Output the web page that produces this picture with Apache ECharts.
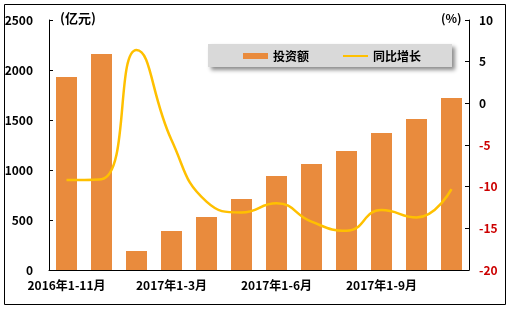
<!DOCTYPE html>
<html>
<head>
<meta charset="utf-8">
<script src="https://cdn.jsdelivr.net/npm/echarts@6/dist/echarts.min.js"></script>
<style>
html,body{margin:0;padding:0;background:#fff;}
#c{width:514px;height:313px;}
</style>
</head>
<body>
<div id="c"></div>
<script>
var categories = ['2016年1-11月','2016年1-12月','2017年1-2月','2017年1-3月','2017年1-4月','2017年1-5月','2017年1-6月','2017年1-7月','2017年1-8月','2017年1-9月','2017年1-10月','2017年1-11月'];
var investment = [1930, 2160, 190, 390, 530, 710, 940, 1060, 1190, 1370, 1510, 1720];
var growth = [-9.2, -9.1, 6.4, -4.4, -11.8, -13.1, -12.0, -14.2, -15.3, -12.8, -13.7, -10.3];
var seriesNames = ['投资额', '同比增长'];
var leftUnit = '(亿元)';
var rightUnit = '(%)';

var FONT = '"Noto Sans CJK SC", "DejaVu Sans", sans-serif';
var chart = echarts.init(document.getElementById('c'));
chart.setOption({
  animation: false,
  textStyle: {fontFamily: FONT},
  grid: {left: 49, right: 45, top: 20, bottom: 43},
  graphic: [
    {type: 'rect', shape: {x: 4.5, y: 4.5, width: 501, height: 300}, style: {fill: 'none', stroke: '#000', lineWidth: 1}, z: 0},
    {type: 'text', left: 60, top: 12, style: {text: leftUnit, font: 'bold 13px ' + FONT, fill: '#000'}},
    {type: 'text', left: 441, top: 12, style: {text: rightUnit, font: 'bold 12px ' + FONT, fill: '#000'}}
  ],
  legend: {
    left: 208, top: 44,
    padding: [6, 31, 5, 35],
    itemGap: 34,
    itemWidth: 25,
    itemHeight: 6,
    backgroundColor: '#d9d9d9',
    shadowColor: 'rgba(0,0,0,0.45)',
    shadowBlur: 4,
    shadowOffsetX: 3,
    shadowOffsetY: 3,
    textStyle: {fontSize: 12, fontWeight: 'bold', color: '#000', fontFamily: FONT},
    data: [
      {name: seriesNames[0], icon: 'rect'},
      {name: seriesNames[1], icon: 'path://M0,0 L25,0 L25,2 L0,2 Z'}
    ]
  },
  xAxis: {
    type: 'category',
    data: categories,
    axisLine: {lineStyle: {color: '#000', width: 1}},
    axisTick: {inside: true, interval: 0, length: 4, lineStyle: {color: '#000'}},
    axisLabel: {interval: 2, margin: 9, color: '#000', fontSize: 12, fontWeight: 'bold', fontFamily: FONT}
  },
  yAxis: [
    {
      type: 'value', min: 0, max: 2500, interval: 500,
      axisLine: {show: true, lineStyle: {color: '#000', width: 1}},
      axisTick: {show: true, inside: true, length: 4, lineStyle: {color: '#000'}},
      axisLabel: {margin: 16, color: '#000', fontSize: 12, fontWeight: 'bold', fontFamily: FONT,
        formatter: function (v) { return String(v); }},
      splitLine: {show: false}
    },
    {
      type: 'value', min: -20, max: 10, interval: 5, position: 'right',
      axisLine: {show: true, lineStyle: {color: '#000', width: 1}},
      axisTick: {show: true, inside: true, length: 4, lineStyle: {color: '#000'}},
      axisLabel: {
        margin: 10, fontSize: 12, fontWeight: 'bold', fontFamily: FONT,
        formatter: function (v) { return String(v); },
        color: function (v) { return Number(v) < 0 ? '#cc0000' : '#000'; }
      },
      splitLine: {show: false}
    }
  ],
  series: [
    {
      name: seriesNames[0], type: 'bar', data: investment, yAxisIndex: 0,
      barCategoryGap: '40%',
      itemStyle: {color: '#e98b3d'}
    },
    {
      name: seriesNames[1], type: 'line', data: growth, yAxisIndex: 1,
      smooth: 0.5, showSymbol: false, symbol: 'none',
      lineStyle: {color: '#ffc000', width: 2.5},
      itemStyle: {color: '#ffc000'},
      z: 3
    }
  ]
});
</script>
</body>
</html>
